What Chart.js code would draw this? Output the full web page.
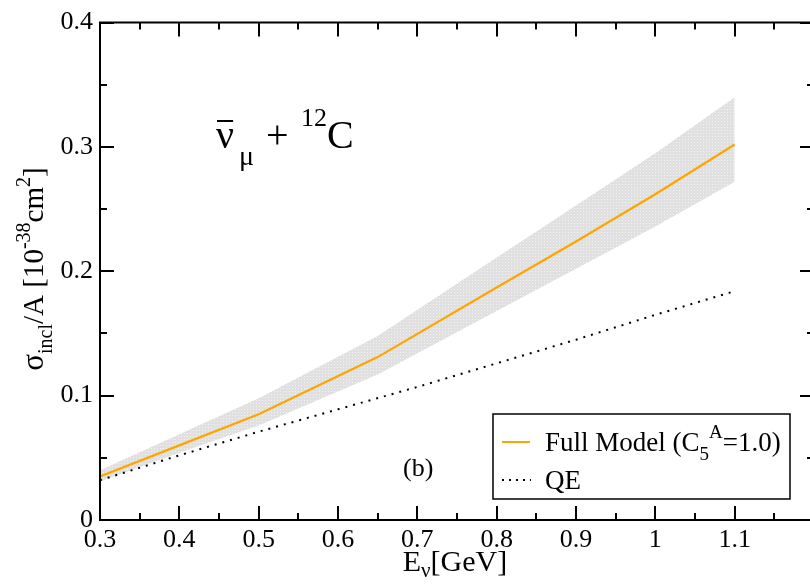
<!DOCTYPE html>
<html>
<head>
<meta charset="utf-8">
<script src="https://cdn.jsdelivr.net/npm/chart.js@4.4.1/dist/chart.umd.min.js"></script>
<style>
  html, body { margin: 0; padding: 0; background: #fff; overflow: hidden; width: 810px; height: 584px; }
  canvas { display: block; }
</style>
</head>
<body>
<canvas id="c" width="820" height="584"></canvas>
<script>
// Inclusive antineutrino cross section per nucleon on carbon
const energies   = [0.3, 0.4, 0.5, 0.65, 0.8, 0.9, 1.0, 1.1];
const fullModel  = [0.035, 0.060, 0.085, 0.131, 0.187, 0.224, 0.262, 0.302];
const bandUpper  = [0.040, 0.069, 0.098, 0.148, 0.211, 0.253, 0.295, 0.340];
const bandLower  = [0.031, 0.054, 0.076, 0.117, 0.168, 0.202, 0.236, 0.272];
const qeEnergies = [0.3, 0.4, 0.5, 0.6, 0.7, 0.8, 0.9, 1.0, 1.1];
const qeValues   = [0.032, 0.052, 0.071, 0.089, 0.107, 0.126, 0.145, 0.165, 0.184];
const xTicks = [0.3, 0.4, 0.5, 0.6, 0.7, 0.8, 0.9, 1.0, 1.1, 1.2];
const yTicks = [0, 0.1, 0.2, 0.3, 0.4];

const SERIF = '"Liberation Serif", "Times New Roman", serif';
Chart.defaults.font.family = SERIF;
Chart.defaults.color = '#000';

const pts = (xs, ys) => xs.map((x, i) => ({ x, y: ys[i] }));

// light stippled grey used for the uncertainty band
function bandPattern() {
  const t = document.createElement('canvas');
  t.width = 3; t.height = 3;
  const g = t.getContext('2d');
  g.fillStyle = '#e0e0e0';
  g.fillRect(0, 0, 3, 3);
  g.fillStyle = '#f3f3f3';
  g.fillRect(1, 1, 1, 1);
  return g.createPattern(t, 'repeat');
}

function drawRich(ctx, x, y, parts, align) {
  // parts: [text, size, dy]
  let total = 0;
  parts.forEach(p => { ctx.font = p[1] + 'px ' + SERIF; p.w = ctx.measureText(p[0]).width; total += p.w; });
  let cx = align === 'center' ? x - total / 2 : x;
  parts.forEach(p => {
    ctx.font = p[1] + 'px ' + SERIF;
    ctx.fillText(p[0], cx, y + (p[2] || 0));
    cx += p.w;
  });
  return total;
}

const decorations = {
  id: 'decorations',
  afterDraw(chart) {
    const ctx = chart.ctx;
    const xs = chart.scales.x, ys = chart.scales.y;
    const L = xs.left, R = xs.right, T = ys.top, B = ys.bottom;
    ctx.save();
    ctx.strokeStyle = '#000';
    ctx.fillStyle = '#000';
    ctx.lineWidth = 2;
    ctx.lineCap = 'butt';

    // frame
    ctx.beginPath();
    ctx.moveTo(L, T); ctx.lineTo(R, T); ctx.lineTo(R, B); ctx.lineTo(L, B); ctx.closePath();
    ctx.stroke();

    // tick marks (inside, on all four sides)
    const major = 14, minor = 7;
    ctx.beginPath();
    for (let i = 0; i < xTicks.length; i++) {
      const px = Math.round(xs.getPixelForValue(xTicks[i]));
      ctx.moveTo(px, B); ctx.lineTo(px, B - major);
      ctx.moveTo(px, T); ctx.lineTo(px, T + major);
      if (i < xTicks.length - 1) {
        const pm = Math.round(xs.getPixelForValue((xTicks[i] + xTicks[i + 1]) / 2));
        ctx.moveTo(pm, B); ctx.lineTo(pm, B - minor);
        ctx.moveTo(pm, T); ctx.lineTo(pm, T + minor);
      }
    }
    for (let i = 0; i < yTicks.length; i++) {
      const py = Math.round(ys.getPixelForValue(yTicks[i]));
      ctx.moveTo(L, py); ctx.lineTo(L + major, py);
      ctx.moveTo(R, py); ctx.lineTo(R - major, py);
      if (i < yTicks.length - 1) {
        const pm = Math.round(ys.getPixelForValue((yTicks[i] + yTicks[i + 1]) / 2));
        ctx.moveTo(L, pm); ctx.lineTo(L + minor, pm);
        ctx.moveTo(R, pm); ctx.lineTo(R - minor, pm);
      }
    }
    ctx.stroke();

    ctx.textBaseline = 'alphabetic';
    ctx.textAlign = 'left';

    // x axis title
    drawRich(ctx, 455, 571, [['E', 30, 0], ['\u03BD', 21, 6], ['[GeV]', 30, 0]], 'center');

    // y axis title (rotated)
    ctx.save();
    ctx.translate(43, 269);
    ctx.rotate(-Math.PI / 2);
    drawRich(ctx, 0, 0, [['\u03C3', 31, 0], ['incl', 20, 9], ['/A [10', 29, 0], ['-38', 20, -13], ['cm', 29, 0], ['2', 20, -13], [']', 29, 0]], 'center');
    ctx.restore();

    // reaction label
    ctx.font = '40px ' + SERIF;
    ctx.fillText('\u03BD', 216, 148);
    const nuW = ctx.measureText('\u03BD').width;
    ctx.lineWidth = 2;
    ctx.beginPath(); ctx.moveTo(217, 121); ctx.lineTo(216 + nuW - 1, 121); ctx.stroke();
    ctx.font = '28px ' + SERIF;
    ctx.fillText('\u03BC', 239, 165);
    ctx.font = '40px ' + SERIF;
    ctx.fillText('+', 266, 148);
    ctx.font = '26px ' + SERIF;
    ctx.fillText('12', 301, 126);
    ctx.font = '40px ' + SERIF;
    ctx.fillText('C', 327, 148);

    // panel tag
    ctx.font = '26px ' + SERIF;
    ctx.fillText('(b)', 403, 476);

    // legend
    ctx.fillStyle = '#fff';
    ctx.fillRect(493, 414, 297, 85);
    ctx.strokeStyle = '#000';
    ctx.lineWidth = 1.5;
    ctx.strokeRect(493, 414, 297, 85);
    ctx.lineWidth = 2;
    ctx.strokeStyle = '#ffa500';
    ctx.beginPath(); ctx.moveTo(502, 442); ctx.lineTo(530, 442); ctx.stroke();
    ctx.strokeStyle = '#000';
    ctx.setLineDash([2, 5]);
    ctx.beginPath(); ctx.moveTo(502, 480); ctx.lineTo(531, 480); ctx.stroke();
    ctx.setLineDash([]);
    ctx.fillStyle = '#000';
    drawRich(ctx, 545, 451, [['Full Model (C', 27, 0], ['5', 19, 9], ['A', 19, -13], ['=1.0)', 27, 0]], 'left');
    ctx.font = '27px ' + SERIF;
    ctx.fillText('QE', 545, 489);

    ctx.restore();
  }
};

const ctx = document.getElementById('c').getContext('2d');
new Chart(ctx, {
  type: 'line',
  data: {
    datasets: [
      {
        label: 'Full Model',
        data: pts(energies, fullModel),
        borderColor: '#ffa500',
        borderWidth: 2.2,
        pointRadius: 0,
        fill: false,
        tension: 0
      },
      {
        label: 'QE',
        data: pts(qeEnergies, qeValues),
        borderColor: '#000',
        borderWidth: 2,
        borderDash: [2, 6],
        pointRadius: 0,
        fill: false,
        tension: 0
      },
      {
        label: 'band upper',
        data: pts(energies, bandUpper),
        borderWidth: 0,
        borderColor: 'rgba(0,0,0,0)',
        backgroundColor: bandPattern(),
        pointRadius: 0,
        fill: '+1',
        tension: 0
      },
      {
        label: 'band lower',
        data: pts(energies, bandLower),
        borderWidth: 0,
        borderColor: 'rgba(0,0,0,0)',
        pointRadius: 0,
        fill: false,
        tension: 0
      }
    ]
  },
  options: {
    responsive: false,
    animation: false,
    layout: { padding: { top: 20, right: 6, left: 0, bottom: 0 } },
    plugins: { legend: { display: false }, tooltip: { enabled: false } },
    scales: {
      x: {
        type: 'linear',
        min: 0.3, max: 1.2,
        afterFit: s => { s.height = 64; },
        afterBuildTicks: s => { s.ticks = xTicks.map(v => ({ value: v })); },
        grid: { display: false, drawTicks: false },
        border: { display: false },
        ticks: {
          padding: 5,
          maxRotation: 0,
          autoSkip: false,
          font: { size: 26, family: SERIF },
          color: '#000',
          callback: v => (v > 1.15 ? '' : String(Number(v.toFixed(2))))
        }
      },
      y: {
        type: 'linear',
        min: 0, max: 0.4,
        afterFit: s => { s.width = 100; },
        afterBuildTicks: s => { s.ticks = yTicks.map(v => ({ value: v })); },
        grid: { display: false, drawTicks: false },
        border: { display: false },
        ticks: {
          padding: 7,
          autoSkip: false,
          font: { size: 26, family: SERIF },
          color: '#000',
          callback: v => String(Number(v.toFixed(2)))
        }
      }
    }
  },
  plugins: [decorations]
});
</script>
</body>
</html>
